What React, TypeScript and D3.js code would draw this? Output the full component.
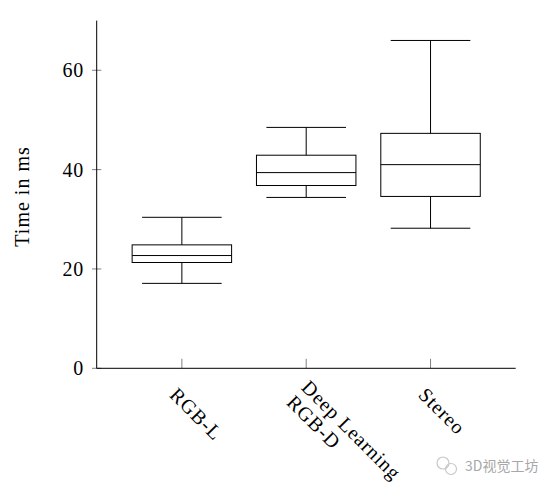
import React from "react";
import * as d3 from "d3";

const categories: string[][] = [["RGB-L"], ["Deep Learning", "RGB-D"], ["Stereo"]];
const positions = [1, 2, 3];
const lowerWhisker = [17.1, 34.4, 28.2];
const q1 = [21.3, 36.8, 34.6];
const median = [22.7, 39.4, 41.0];
const q3 = [24.85, 42.9, 47.3];
const upperWhisker = [30.4, 48.5, 66.0];
const yTicks = [0, 20, 40, 60];
const yLabel = "Time in ms";
const watermark = "3D视觉工坊";

export default function App() {
  const W = 551, H = 493;
  const x = d3.scaleLinear().domain([0.315, 3.685]).range([96.7, 515.7]);
  const y = d3.scaleLinear().domain([0, 70]).range([368.3, 20.6]);
  const boxW = 0.8, whW = 0.64;
  const font = "'Liberation Serif', 'Times New Roman', serif";
  const bw = x(1 + boxW / 2) - x(1);
  const ww = x(1 + whW / 2) - x(1);
  const lh = 21;
  return (
    <svg width={W} height={H} style={{ position: "absolute", left: 0, top: 0, background: "#fff" }}
      fontFamily={font}>
      <rect x={0} y={0} width={W} height={H} fill="#fff" />
      {/* y ticks */}
      {yTicks.map((t) => (
        <g key={t}>
          <line x1={x.range()[0] - 4.7} x2={x.range()[0] + 4.6} y1={y(t)} y2={y(t)} stroke="#808080" strokeWidth={1} />
          <text x={84} y={y(t)} dy="0.35em" textAnchor="end" fontSize={20} letterSpacing={0.8} fill="#000">{t}</text>
        </g>
      ))}
      {/* x ticks */}
      {positions.map((p) => (
        <line key={p} x1={x(p)} x2={x(p)} y1={y(0) - 9.5} y2={y(0)} stroke="#808080" strokeWidth={1} />
      ))}
      {/* axes */}
      <line x1={x.range()[0]} x2={x.range()[0]} y1={y(70)} y2={y(0)} stroke="#000" strokeWidth={1} />
      <line x1={x.range()[0]} x2={x.range()[1]} y1={y(0)} y2={y(0)} stroke="#000" strokeWidth={1} />
      {/* boxes */}
      {positions.map((p, i) => {
        const cx = x(p);
        return (
          <g key={"b" + i} stroke="#000" strokeWidth={1} fill="none">
            <line x1={cx} x2={cx} y1={y(upperWhisker[i])} y2={y(q3[i])} />
            <line x1={cx} x2={cx} y1={y(q1[i])} y2={y(lowerWhisker[i])} />
            <line x1={cx - ww} x2={cx + ww} y1={y(upperWhisker[i])} y2={y(upperWhisker[i])} />
            <line x1={cx - ww} x2={cx + ww} y1={y(lowerWhisker[i])} y2={y(lowerWhisker[i])} />
            <rect x={cx - bw} y={y(q3[i])} width={2 * bw} height={y(q1[i]) - y(q3[i])} />
            <line x1={cx - bw} x2={cx + bw} y1={y(median[i])} y2={y(median[i])} />
          </g>
        );
      })}
      {/* x labels */}
      {positions.map((p, i) => {
        const lines = categories[i];
        const n = lines.length;
        return (
          <g key={"l" + i} transform={`translate(${x(p) - 13.3},396) rotate(45)`}>
            {lines.map((s, j) => (
              <text key={j} x={0} y={(j - (n - 1) / 2) * lh} fontSize={20} letterSpacing={0.9} fill="#000">{s}</text>
            ))}
          </g>
        );
      })}
      {/* y label */}
      <text transform={`translate(28.5,${(y(0) + y(70)) / 2 + 2}) rotate(-90)`} textAnchor="middle" fontSize={20}
        letterSpacing={1} fill="#000">
        {yLabel}
      </text>
      {/* watermark */}
      <g stroke="#c8c8c8" fill="none" strokeWidth={1.2}>
        <circle cx={443} cy={463} r={6} />
        <circle cx={451} cy={469} r={5.5} />
      </g>
      <text x={465} y={466} dy="0.35em" fontSize={14} fill="#a8a8a8"
        fontFamily="'Noto Sans CJK SC', sans-serif">{watermark}</text>
    </svg>
  );
}
